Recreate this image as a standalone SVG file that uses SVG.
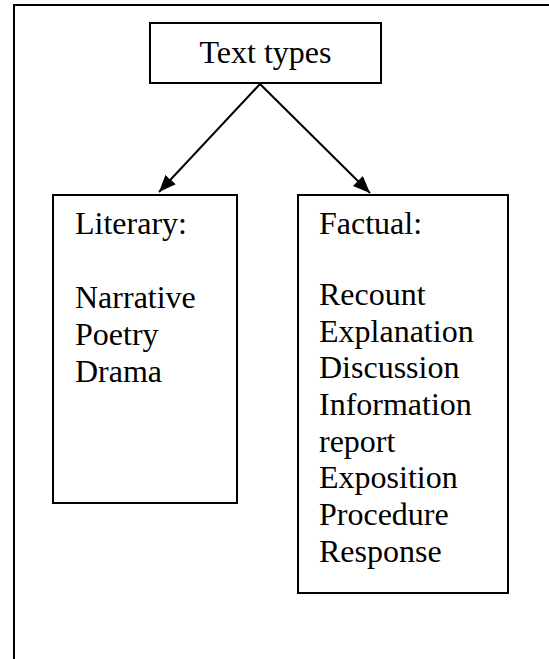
<svg xmlns="http://www.w3.org/2000/svg" width="549" height="659" viewBox="0 0 549 659">
  <style>
    .box { fill: #ffffff; stroke: #000000; stroke-width: 2; }
    .t { font-family: "Liberation Serif", "Times New Roman", serif; font-size: 32px; fill: #000000; }
    .edge { stroke: #000000; stroke-width: 2; fill: none; }
  </style>
  <defs>
    <marker id="arrow" markerUnits="userSpaceOnUse" markerWidth="18" markerHeight="14" refX="17" refY="7" orient="auto">
      <path d="M0,0 L17,7 L0,14 z" fill="#000000"/>
    </marker>
  </defs>
  <rect width="549" height="659" fill="#ffffff"/>
  <path d="M14,659 L14,5 L549,5" fill="none" stroke="#000000" stroke-width="2"/>
  <g id="connectors">
    <line class="edge" x1="260" y1="84" x2="159" y2="192" marker-end="url(#arrow)"/>
    <line class="edge" x1="260" y1="84" x2="370" y2="193" marker-end="url(#arrow)"/>
  </g>
  <g id="text-types">
    <rect class="box" x="150" y="23" width="231" height="60"/>
    <text class="t" x="265.5" y="63" text-anchor="middle">Text types</text>
  </g>
  <g id="literary">
    <rect class="box" x="53" y="195" width="184" height="308"/>
    <text class="t" x="75" y="234">Literary:</text>
    <text class="t" x="75" y="308">Narrative</text>
    <text class="t" x="75" y="345">Poetry</text>
    <text class="t" x="75" y="382">Drama</text>
  </g>
  <g id="factual">
    <rect class="box" x="298" y="195" width="210" height="398"/>
    <text class="t" x="319" y="234">Factual:</text>
    <text class="t" x="319" y="305">Recount</text>
    <text class="t" x="319" y="342">Explanation</text>
    <text class="t" x="319" y="378">Discussion</text>
    <text class="t" x="319" y="415">Information</text>
    <text class="t" x="319" y="452">report</text>
    <text class="t" x="319" y="488">Exposition</text>
    <text class="t" x="319" y="525">Procedure</text>
    <text class="t" x="319" y="562">Response</text>
  </g>
</svg>
